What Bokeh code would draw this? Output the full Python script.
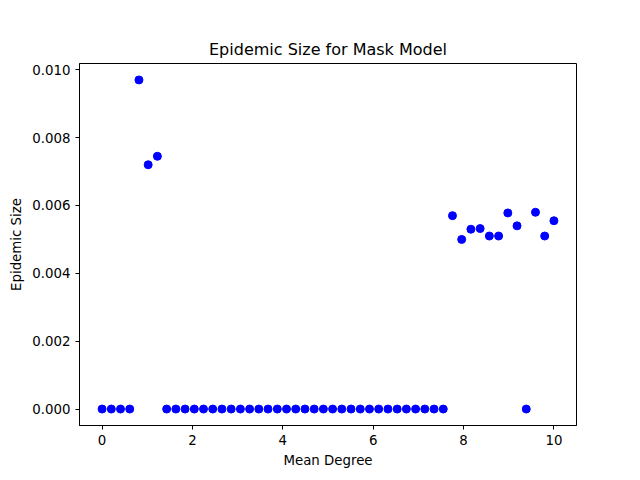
from bokeh.plotting import figure
from bokeh.models import Range1d, FixedTicker, CustomJSTickFormatter
from bokeh.embed import file_html
from bokeh.resources import INLINE

# mean degree (50 evenly spaced points from 0 to 10)
mean_degree = [0.0, 0.204, 0.408, 0.612, 0.816, 1.02, 1.224, 1.429, 1.633, 1.837,
               2.041, 2.245, 2.449, 2.653, 2.857, 3.061, 3.265, 3.469, 3.673, 3.878,
               4.082, 4.286, 4.49, 4.694, 4.898, 5.102, 5.306, 5.51, 5.714, 5.918,
               6.122, 6.327, 6.531, 6.735, 6.939, 7.143, 7.347, 7.551, 7.755, 7.959,
               8.163, 8.367, 8.571, 8.776, 8.98, 9.184, 9.388, 9.592, 9.796, 10.0]
epidemic_size = [0, 0, 0, 0, 0.0097, 0.0072, 0.00745] + [0] * 31 + [
    0.0057, 0.0050, 0.0053, 0.00532, 0.0051, 0.0051, 0.00578, 0.0054,
    0.0, 0.0058, 0.0051, 0.00555]

p = figure(width=624, height=470, output_backend="svg", toolbar_location=None,
           title="Epidemic Size for Mask Model",
           x_axis_label="Mean Degree", y_axis_label="Epidemic Size",
           x_range=Range1d(-0.5, 10.5), y_range=Range1d(-0.000485, 0.010185),
           min_border_left=79, min_border_right=48, min_border_top=63,
           min_border_bottom=45)

p.scatter(mean_degree, epidemic_size, size=8, color="blue")

p.grid.visible = False
p.outline_line_color = "black"
p.title.align = "center"
p.title.text_font = "DejaVu Sans"
p.title.text_font_size = "12pt"
p.title.text_font_style = "normal"
p.title.text_color = "black"
p.xaxis.ticker = FixedTicker(ticks=[0, 2, 4, 6, 8, 10])
p.yaxis.ticker = FixedTicker(ticks=[0, 0.002, 0.004, 0.006, 0.008, 0.010])
p.yaxis.formatter = CustomJSTickFormatter(code="return tick.toFixed(3);")
for ax in (p.xaxis, p.yaxis):
    ax.axis_label_text_font = "DejaVu Sans"
    ax.axis_label_text_font_style = "normal"
    ax.axis_label_text_font_size = "10pt"
    ax.axis_label_text_color = "black"
    ax.major_label_text_font = "DejaVu Sans"
    ax.major_label_text_font_size = "10pt"
    ax.major_label_text_color = "black"
    ax.minor_tick_line_color = None
    ax.major_tick_out = 4
    ax.major_tick_in = 0
    ax.axis_line_color = "black"

open("out.html", "w").write(file_html(p, INLINE))
